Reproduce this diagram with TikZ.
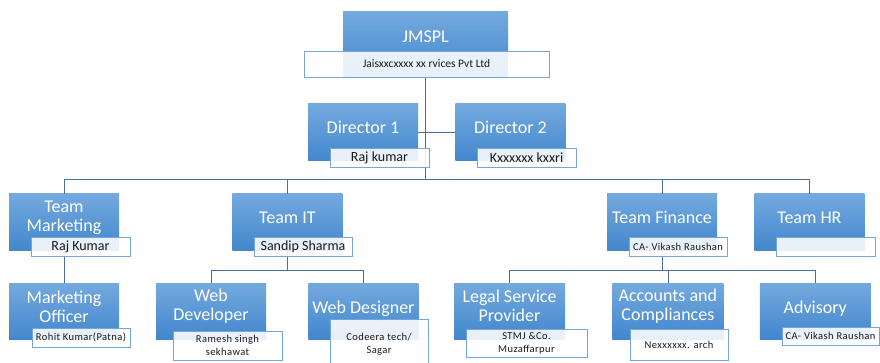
\documentclass[tikz,border=0pt]{standalone}
\usepackage{fontspec}
\setmainfont{Carlito}
\newfontfamily\smallnames[LetterSpace=4]{Carlito}
\usetikzlibrary{positioning}

\definecolor{boxtop}{HTML}{74A9DE}
\definecolor{boxbot}{HTML}{4287CD}
\definecolor{namerule}{HTML}{74A6DB}
\definecolor{linkcol}{HTML}{4D6E94}
\definecolor{nametext}{HTML}{1A1A1A}

\begin{document}
\begin{tikzpicture}[
  x=1pt, y=-1pt,
  unit/.style={minimum width=110pt, minimum height=57pt, inner sep=0pt,
               top color=boxtop, bottom color=boxbot, draw=none},
  sub/.style={unit, minimum width=111pt, minimum height=56pt},
  ttl/.style={text=white, align=center, inner sep=0pt, yshift=5pt,
              font=\fontsize{18}{19}\selectfont},
  namebox/.style={draw=namerule, line width=0.9pt, fill=white, fill opacity=0.88,
                  text opacity=1, text=nametext, inner sep=0pt, align=center,
                  font=\fontsize{14}{16}\selectfont},
  small/.style={font=\smallnames\fontsize{10.5}{13}\selectfont},
  link/.style={draw=linkcol, line width=0.8pt}
 ]
\useasboundingbox (0,0) rectangle (880,363);

% boxes
\node[unit, minimum width=165pt, minimum height=65pt,
      label={[ttl, yshift=3pt]center:JMSPL}] (top) at (425.5,44.5) {};
\node[unit, label={[ttl]center:Director 1}] (dir1) at (363,132.5) {};
\node[unit, right=37pt of dir1, label={[ttl]center:Director 2}] (dir2) {};

\node[unit, label={[ttl]center:Team\\Marketing}] (mkt) at (64,222.5) {};
\node[unit, right=113pt of mkt, label={[ttl]center:Team IT}] (it) {};
\node[unit, label={[ttl]center:Team Finance}] (fin) at (662,222.5) {};
\node[unit, right=37pt of fin, label={[ttl]center:Team HR}] (hr) {};

\node[sub, minimum width=110pt, below=32pt of mkt,
      label={[ttl]center:Marketing\\Officer}] (mo) {};
\node[sub, minimum width=110pt, label={[ttl]center:Web\\Developer}] (wdev) at (211,311) {};
\node[sub, minimum width=110pt, right=42pt of wdev,
      label={[ttl, yshift=-3pt]center:Web Designer}] (wdes) {};
\node[sub, label={[ttl]center:Legal Service\\Provider}] (legal) at (509.5,311) {};
\node[sub, right=47pt of legal, label={[ttl]center:Accounts and\\Compliances}] (acct) {};
\node[sub, right=36pt of acct, label={[ttl, yshift=-3pt]center:Advisory}] (adv) {};

% connectors
\coordinate (busA) at (0,179);
\coordinate (busB) at (0,270);
\draw[link] (top.south) -- (top.south |- busA);
\draw[link] (dir1.east) -- (dir2.west);
\draw[link] (mkt.north) |- (busA -| hr.north) -- (hr.north);
\draw[link] (it.north) -- (it.north |- busA);
\draw[link] (fin.north) -- (fin.north |- busA);
\draw[link] (mkt.south) -- (mo.north);
\draw[link] (it.south) -- (it.south |- busB);
\draw[link] (wdev.north) |- (busB -| wdes.north) -- (wdes.north);
\draw[link] (fin.south) -- (fin.south |- busB);
\draw[link] (legal.north) |- (busB -| adv.north) -- (adv.north);
\draw[link] (acct.north) -- (acct.north |- busB);

% name boxes
\node[namebox, minimum width=245pt, minimum height=26pt,
      font=\fontsize{11.5}{13}\selectfont] (topname) at (426.5,64) {Jaisxxcxxxx xx rvices Pvt Ltd};
\node[namebox, minimum width=99pt, minimum height=19pt] (dir1name) at (379.5,157.5) {Raj kumar};
\node[namebox, minimum width=99pt, minimum height=19pt] (dir2name) at (526.5,157.5) {Kxxxxxx kxxri};
\node[namebox, minimum width=99pt, minimum height=19pt] (mktname) at (80.5,246.5) {Raj Kumar};
\node[namebox, minimum width=98pt, minimum height=19pt] (itname) at (303,246.5) {Sandip Sharma};
\node[namebox, small, minimum width=98pt, minimum height=19pt] (finname) at (678,246.5) {CA- Vikash Raushan};
\node[namebox, minimum width=99pt, minimum height=19pt] (hrname) at (825.5,246.5) {};

\node[namebox, small, minimum width=98pt, minimum height=19pt] (moname) at (81,337.5) {Rohit Kumar(Patna)};
\node[namebox, small, minimum width=109pt, minimum height=29pt] (wdevname) at (227.5,345.5) {Ramesh singh\\sekhawat};
\node[namebox, small, minimum width=98pt, minimum height=51pt] (wdesname) at (379,344.5) {Codeera tech/\\Sagar};
\node[namebox, small, minimum width=121pt, minimum height=28pt] (legalname) at (526.5,343) {STMJ \&Co.\\Muzaffarpur};
\node[namebox, small, minimum width=98pt, minimum height=31pt] (acctname) at (679,344.5) {Nexxxxxx. arch};
\node[namebox, small, minimum width=97pt, minimum height=18pt] (advname) at (830.5,336) {CA- Vikash Raushan};
\end{tikzpicture}
\end{document}
